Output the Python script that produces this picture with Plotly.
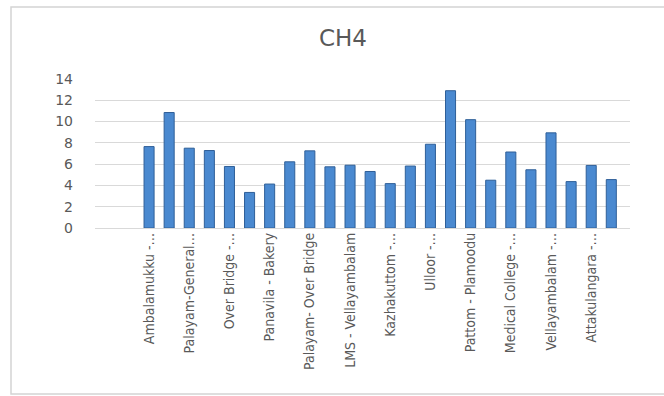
import plotly.graph_objects as go

# CH4 readings per monitoring location (24 sites, every other site labelled)
site_labels = [
    "Ambalamukku -…",
    "Palayam-General…",
    "Over Bridge -…",
    "Panavila - Bakery",
    "Palayam- Over Bridge",
    "LMS - Vellayambalam",
    "Kazhakuttom -…",
    "Ulloor -…",
    "Pattom - Plamoodu",
    "Medical College -…",
    "Vellayambalam -…",
    "Attakulangara -…",
]
ch4_values = [
    7.65, 10.85, 7.5, 7.28, 5.78, 3.34, 4.13, 6.22, 7.25, 5.75, 5.9, 5.31,
    4.17, 5.82, 7.87, 12.9, 10.18, 4.49, 7.14, 5.47, 8.94, 4.36, 5.88, 4.55,
]
y_ticks = [0, 2, 4, 6, 8, 10, 12, 14]

x_pos = list(range(len(ch4_values)))
label_pos = [2 * i for i in range(len(site_labels))]

W, H = 664, 396
L, R, T, B = 95, 34, 79, 168

fig = go.Figure(
    go.Bar(
        x=x_pos,
        y=ch4_values,
        width=0.5,
        marker=dict(color="#4a89d0", line=dict(color="#2f5f98", width=1)),
    )
)

pw = W - L - R
ph = H - T - B

def px_x(p):
    return (p - L) / pw

def px_y(p):
    return (H - B - p) / ph

fig.update_layout(
    width=W,
    height=H,
    margin=dict(l=L, r=R, t=T, b=B),
    paper_bgcolor="white",
    plot_bgcolor="white",
    showlegend=False,
    title=dict(
        text="CH4",
        x=343 / W,
        y=1 - 38 / H,
        xanchor="center",
        yanchor="middle",
        font=dict(family="DejaVu Sans", size=23, color="#595959"),
    ),
    xaxis=dict(
        range=[-2.69, 23.93],
        tickmode="array",
        tickvals=label_pos,
        ticktext=site_labels,
        tickangle=-90,
        showgrid=False,
        zeroline=False,
        showline=False,
        ticks="",
        ticklabelstandoff=1,
        tickfont=dict(family="Liberation Sans Narrow, DejaVu Sans Condensed", size=14, color="#595959"),
    ),
    yaxis=dict(
        range=[0, 14],
        tickmode="array",
        tickvals=y_ticks,
        showgrid=True,
        gridcolor="#d9d9d9",
        gridwidth=1,
        zeroline=True,
        zerolinecolor="#d9d9d9",
        zerolinewidth=1,
        showline=False,
        ticks="",
        ticklabelstandoff=21,
        tickfont=dict(family="DejaVu Sans", size=14, color="#595959"),
    ),
    shapes=[
        dict(
            type="rect",
            xref="paper",
            yref="paper",
            x0=px_x(11),
            x1=px_x(W + 10),
            y0=px_y(394),
            y1=px_y(7),
            line=dict(color="#d4d4d4", width=1.5),
            fillcolor="rgba(0,0,0,0)",
            layer="below",
        )
    ],
)

fig.write_html("out.html")
